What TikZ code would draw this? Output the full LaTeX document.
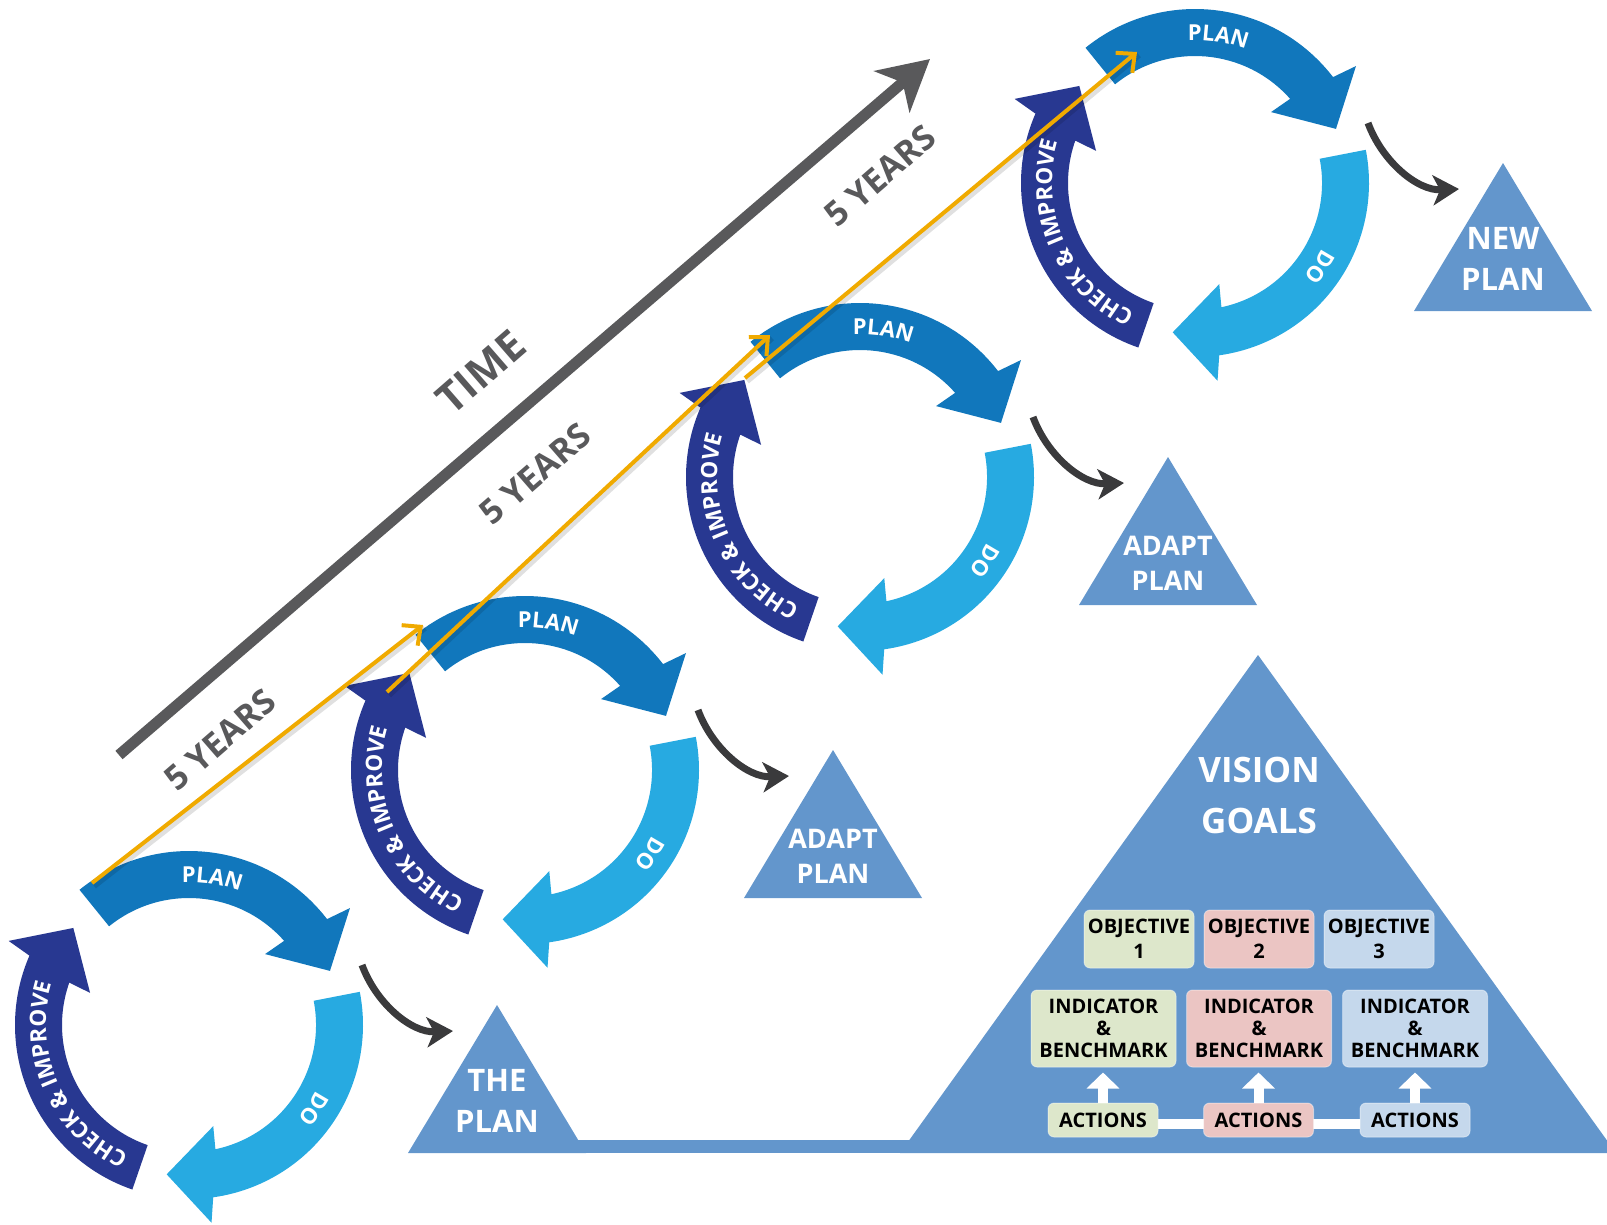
\documentclass[tikz,border=0pt]{standalone}
\usepackage{fontspec}
\setmainfont{Open Sans}
\usetikzlibrary{arrows.meta,calc,decorations.text}

\definecolor{planblue}{RGB}{17,119,188}
\definecolor{doblue}{RGB}{39,170,225}
\definecolor{checkblue}{RGB}{40,56,145}
\definecolor{pyrblue}{RGB}{99,150,204}
\definecolor{darkarrow}{RGB}{58,58,60}
\definecolor{timegray}{RGB}{89,89,91}
\definecolor{pathorange}{RGB}{240,170,0}
\definecolor{objgreen}{RGB}{221,231,203}
\definecolor{objpink}{RGB}{235,197,195}
\definecolor{objblue}{RGB}{197,216,236}

% flecha curva: color, cola, punta, centro del texto, tamano, texto
\newcommand\cyclearrow[6]{%
  \fill[#1] (-#2:174) arc[start angle=-#2, end angle={-(#3+16.5)}, radius=174]
    -- ({-(#3+15)}:199) -- ({-(#3)}:151) -- ({-(#3+22)}:104) -- ({-(#3+20.5)}:127)
    arc[start angle={-(#3+20.5)}, end angle=-#2, radius=127] -- cycle;
  \path[decorate, decoration={text along path, text align=center,
      text={|\fontsize{#5}{#5}\selectfont\bfseries\color{white}|#6}}]
    ({-(#4+55)}:143) arc[start angle={-(#4+55)}, end angle={-(#4-55)}, radius=143];
}
\newcommand\pdcacycle{%
  \cyclearrow{planblue}{129}{21}{81}{22}{PLAN}
  \cyclearrow{doblue}{11}{-98.5}{-34}{22}{DO}
  \cyclearrow{checkblue}{251}{140}{204}{22.5}{CHECK {\&} IMPROVE}
}

\tikzset{
  tri/.style={fill=pyrblue},
  trilbl/.style={text=white, align=center, inner sep=0pt,
    font=\fontsize{31}{41}\selectfont\bfseries},
  adaptlbl/.style={trilbl, font=\fontsize{27}{35}\selectfont\bfseries},
  timelbl/.style={text=timegray, rotate=41, inner sep=0pt,
    font=\fontsize{34}{34}\selectfont\bfseries},
  timearr/.style={draw=timegray, line width=11pt,
    -{Stealth[length=50pt,width=54pt,inset=14pt]}},
  cyclearr/.style={draw=darkarrow, line width=7pt,
    -{Stealth[length=26pt,width=30pt,inset=7pt]}},
  yearline/.style={draw=pathorange, line width=4pt,
    -{Straight Barb[length=14pt,width=26pt]}},
  yearshadow/.style={draw=black, opacity=0.12, line width=6pt},
  pbox/.style={rounded corners=6pt, draw=white, draw opacity=0.4, line width=1pt,
    align=center, inner sep=0pt, text=black},
  objbox/.style={pbox, minimum width=110pt, minimum height=58pt,
    font=\fontsize{20}{25}\selectfont\bfseries},
  indbox/.style={pbox, minimum width=145pt, minimum height=77pt,
    font=\fontsize{20}{22}\selectfont\bfseries},
  actbox/.style={pbox, minimum width=110pt, minimum height=34pt,
    font=\fontsize{20}{22}\selectfont\bfseries},
  whitearr/.style={draw=white, line width=10pt, shorten >=5pt,
    -{Triangle[length=16pt,width=32pt]}},
}

\begin{document}
\begin{tikzpicture}[x=1pt, y=-1pt]
\useasboundingbox (0,0) rectangle (1607,1224);
\clip (0,0) rectangle (1607,1224);

% Flecha del tiempo
\coordinate (t0) at (119,755);
\coordinate (t1) at (930,59);
\draw[timearr] (t0) -- (t1);
\node[timelbl, font=\fontsize{42}{42}\selectfont\bfseries] (time) at (481,372) {TIME};
\node[timelbl] (yr1) at (220,740) {5 YEARS};
\node[timelbl] (yr2) at (535,474) {5 YEARS};
\node[timelbl] (yr3) at (880,176) {5 YEARS};

% Ciclo 1
\begin{scope}[shift={(189,1025)}]
  \pdcacycle
  \coordinate (out1) at (173,-60);
  \coordinate (in1) at (264,6);
  \fill[tri] (308,-20) -- (397,128) -- (219,128) -- cycle;
  \node[trilbl] (plan1) at (308,75.5) {THE\\PLAN};
\end{scope}

% Ciclo 2
\begin{scope}[shift={(525,770)}]
  \pdcacycle
  \coordinate (out2) at (173,-60);
  \coordinate (in2) at (264,6);
  \fill[tri] (308,-20) -- (397,128) -- (219,128) -- cycle;
  \node[adaptlbl] (plan2) at (308,86.5) {ADAPT\\PLAN};
\end{scope}

% Ciclo 3
\begin{scope}[shift={(860,477)}]
  \pdcacycle
  \coordinate (out3) at (173,-60);
  \coordinate (in3) at (264,6);
  \fill[tri] (308,-20) -- (397,128) -- (219,128) -- cycle;
  \node[adaptlbl] (plan3) at (308,86.5) {ADAPT\\PLAN};
\end{scope}

% Ciclo 4
\begin{scope}[shift={(1195,183)}]
  \pdcacycle
  \coordinate (out4) at (173,-60);
  \coordinate (in4) at (264,6);
  \fill[tri] (308,-20) -- (397,128) -- (219,128) -- cycle;
  \node[trilbl] (plan4) at (308,75.5) {NEW\\PLAN};
\end{scope}

% Flechas hacia los planes
\draw[cyclearr] (out1) .. controls +(14,38) and +(-42,2) .. (in1);
\draw[cyclearr] (out2) .. controls +(14,38) and +(-42,2) .. (in2);
\draw[cyclearr] (out3) .. controls +(14,38) and +(-42,2) .. (in3);
\draw[cyclearr] (out4) .. controls +(14,38) and +(-42,2) .. (in4);

% Piramide
\fill[pyrblue] (560,1140) rectangle (930,1153);
\fill[pyrblue] (1258,655) -- (1616,1153) -- (900,1153) -- cycle;
\node[trilbl, font=\fontsize{35}{51}\selectfont\bfseries] (vision) at (1259,795.5) {VISION\\GOALS};

\coordinate (actl) at (1103,1124);
\coordinate (actr) at (1415,1124);
\draw[draw=white, line width=10pt] (actl) -- (actr);

\node[objbox, fill=objgreen] (obj1) at (1139,939) {OBJECTIVE\\1};
\node[objbox, fill=objpink] (obj2) at (1259,939) {OBJECTIVE\\2};
\node[objbox, fill=objblue] (obj3) at (1379,939) {OBJECTIVE\\3};

\node[indbox, fill=objgreen] (ind1) at (1103.5,1028.5) {INDICATOR\\\&\\BENCHMARK};
\node[indbox, fill=objpink] (ind2) at (1259,1028.5) {INDICATOR\\\&\\BENCHMARK};
\node[indbox, fill=objblue] (ind3) at (1415,1028.5) {INDICATOR\\\&\\BENCHMARK};

\node[actbox, fill=objgreen] (act1) at (1103,1120) {ACTIONS};
\node[actbox, fill=objpink] (act2) at (1258.5,1120) {ACTIONS};
\node[actbox, fill=objblue] (act3) at (1415,1120) {ACTIONS};

\draw[whitearr] (act1.north) -- (act1.north |- ind1.south);
\draw[whitearr] (act2.north) -- (act2.north |- ind2.south);
\draw[whitearr] (act3.north) -- (act3.north |- ind3.south);

% Lineas naranjas
\coordinate (o1s) at (92,883);
\coordinate (o1e) at (423,625);
\coordinate (o2s) at (387,692);
\coordinate (o2e) at (770,335);
\coordinate (o3s) at (745,378);
\coordinate (o3e) at (1137,52);
\draw[yearshadow] ($(o1s)+(2,3)$) -- ($(o1e)+(2,3)$);
\draw[yearshadow] ($(o2s)+(2,3)$) -- ($(o2e)+(2,3)$);
\draw[yearshadow] ($(o3s)+(2,3)$) -- ($(o3e)+(2,3)$);
\draw[yearline] (o1s) -- (o1e);
\draw[yearline] (o2s) -- (o2e);
\draw[yearline] (o3s) -- (o3e);
\end{tikzpicture}
\end{document}
